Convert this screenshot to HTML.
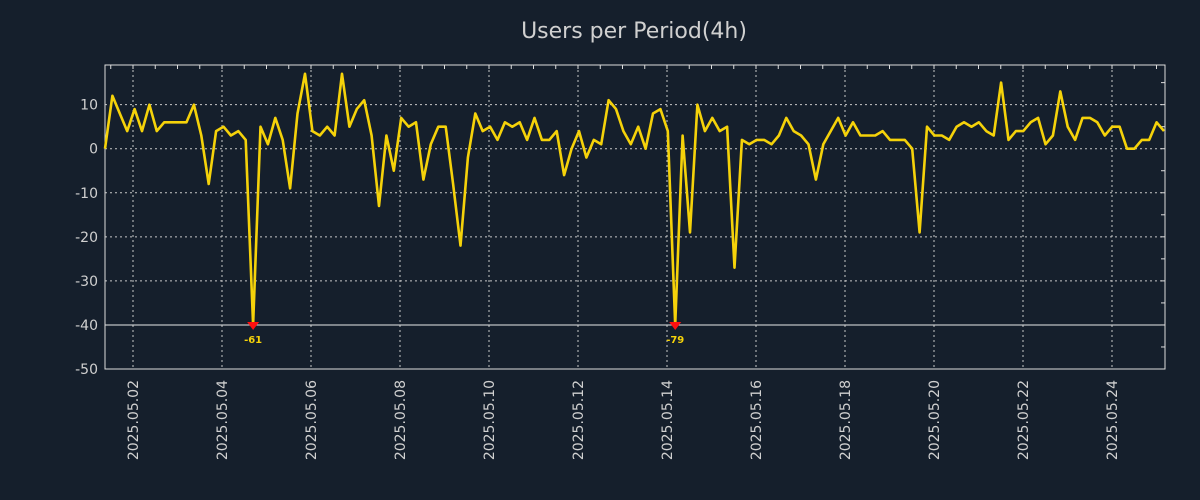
<!DOCTYPE html>
<html><head><meta charset="utf-8"><style>
html,body{margin:0;padding:0;background:#151f2c;}
svg{display:block;font-family:"DejaVu Sans","Liberation Sans",sans-serif;}
</style></head><body>
<svg id="chart" width="1200" height="500">
<rect width="1200" height="500" fill="#151f2c"/>
<text x="634" y="38" text-anchor="middle" font-size="22" fill="#d0d0d0">Users per Period(4h)</text>
<g id="grid"></g><g id="axes"></g><g id="series"></g>
</svg>
<script>
const values = [0,12,8,4,9,4,10,4,6,6,6,6,10,3,-8,4,5,3,4,2,-61,5,1,7,2,-9,8,17,4,3,5,3,17,5,9,11,3,-13,3,-5,7,5,6,-7,1,5,5,-8,-22,-2,8,4,5,2,6,5,6,2,7,2,2,4,-6,0,4,-2,2,1,11,9,4,1,5,0,8,9,4,-79,3,-19,10,4,7,4,5,-27,2,1,2,2,1,3,7,4,3,1,-7,1,4,7,3,6,3,3,3,4,2,2,2,0,-19,5,3,3,2,5,6,5,6,4,3,15,2,4,4,6,7,1,3,13,5,2,7,7,6,3,5,5,0,0,2,2,6,4];
const yTicks = [10,0,-10,-20,-30,-40,-50];
const xTickLabels = ["2025.05.02","2025.05.04","2025.05.06","2025.05.08","2025.05.10","2025.05.12","2025.05.14","2025.05.16","2025.05.18","2025.05.20","2025.05.22","2025.05.24"];
const xTickDays = [1,3,5,7,9,11,13,15,17,19,21,23];
const startDay = 0.375; // 2025.05.01 09:00 -> first point
const stepDay = 1/6;
const threshold = -40;

const L=105,R=1165,T=65,B=369,yMin=-50,yMax=19;
const dayPx = 44.5, day1X = 133;
const xOfDay = d => day1X + (d-1)*dayPx;
const xOf = i => xOfDay(startDay + 1 + i*stepDay - 1) ;
const yOf = v => B - (v - yMin)/(yMax - yMin)*(B - T);
const NS="http://www.w3.org/2000/svg";
function mk(tag,attrs,parent){const e=document.createElementNS(NS,tag);for(const k in attrs)e.setAttribute(k,attrs[k]);parent.appendChild(e);return e;}
const grid=document.getElementById('grid'),axes=document.getElementById('axes'),series=document.getElementById('series');

// scale x so first point at L and last at R
const n=values.length;
const xi = i => L + i*(R-L-1)/(n-1);

yTicks.forEach(t=>{
  const y=yOf(t);
  if(t!==threshold && t!==yMin){
    const g=mk('line',{x1:L,x2:R,y1:y,y2:y,stroke:'#c8c8c8','stroke-width':1,'stroke-dasharray':'2,3'},grid);
    
    
  }
  const tx=mk('text',{x:98,y:y+5,'text-anchor':'end','font-size':14,fill:'#d0d0d0'},axes);
  tx.textContent=t;
  
  
});
xTickDays.forEach((d,k)=>{
  const x=xOfDay(d);
  const g=mk('line',{x1:x,x2:x,y1:T,y2:B,stroke:'#c8c8c8','stroke-width':1,'stroke-dasharray':'2,3'},grid);
  
  
  const tx=mk('text',{transform:`translate(${x+5},380) rotate(-90)`,'text-anchor':'end','font-size':14,fill:'#d0d0d0'},axes);
  tx.textContent=xTickLabels[k];
  
  
});
// minor ticks top
for(let d=0.5; xOfDay(d)<R; d+=0.5){const x=xOfDay(d); if(x>L) mk('line',{x1:x,x2:x,y1:T,y2:T+4,stroke:'#ddd'},axes);}
for(let v=-45; v<=15; v+=5){mk('line',{x1:R-4,x2:R,y1:yOf(v),y2:yOf(v),stroke:'#ddd'},axes);}
const th=mk('line',{x1:L,x2:R,y1:yOf(threshold),y2:yOf(threshold),stroke:'#e8e8e8','stroke-width':1},grid);


const fr=mk('rect',{x:L,y:T,width:R-L,height:B-T,fill:'none',stroke:'#ddd','stroke-width':1},axes);



const pts=values.map((v,i)=>xi(i).toFixed(1)+','+yOf(Math.max(v,threshold)).toFixed(1)).join(' ');
const line=mk('polyline',{points:pts,fill:'none',stroke:'#f5d20a','stroke-width':2.6,'stroke-linejoin':'round'},series);


values.forEach((v,i)=>{
  if(v<threshold){
    const x=xi(i),y=yOf(threshold);
    const m=mk('path',{d:`M${x-6},${y-3} L${x+6},${y-3} L${x},${y+5} Z`,fill:'#ff1010'},series);
    
    
    const t=mk('text',{x:x,y:y+18,'text-anchor':'middle','font-size':10,'font-weight':'bold',fill:'#f5d20a'},series);
    t.textContent=v;
    
    
  }
});
</script>
</body></html>
